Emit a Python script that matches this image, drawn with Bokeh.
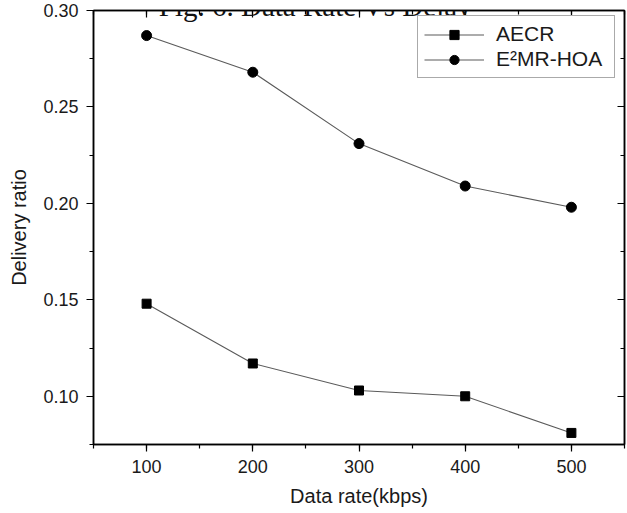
from bokeh.plotting import figure
from bokeh.models import (LinearAxis, SingleIntervalTicker, FixedTicker, PrintfTickFormatter, Label,
                          Legend, LegendItem, CustomJSTickFormatter)
from bokeh.embed import file_html
from bokeh.resources import INLINE

# ---- data ----
data_rate = [100, 200, 300, 400, 500]
aecr = [0.148, 0.117, 0.103, 0.100, 0.081]
e2mr_hoa = [0.287, 0.268, 0.231, 0.209, 0.198]
series_names = ["AECR", "E\u00b2MR-HOA"]
y_ticks = [0.10, 0.15, 0.20, 0.25, 0.30]
y_minor_ticks = [0.075, 0.125, 0.175, 0.225, 0.275]
title_text = "Fig. 6. Data Rate Vs Delay"
x_label = "Data rate(kbps)"
y_label = "Delivery ratio"

FONT = "Liberation Sans"

p = figure(width=627, height=513, x_range=(50, 550), y_range=(0.075, 0.30),
           output_backend="svg", toolbar_location=None,
           x_axis_location=None, y_axis_location=None,
           min_border_left=93, min_border_right=3, min_border_top=10, min_border_bottom=69)
p.xgrid.visible = False
p.ygrid.visible = False
p.outline_line_color = "black"
p.outline_line_width = 1.5
p.background_fill_color = "white"
p.border_fill_color = "white"


def style_axis(ax, inward, show_labels):
    ax.axis_line_color = "black"
    ax.axis_line_width = 1.5
    ax.major_tick_line_color = "black"
    ax.minor_tick_line_color = "black"
    ax.major_tick_line_width = 1.2
    ax.minor_tick_line_width = 1.2
    if inward:
        ax.major_tick_in, ax.major_tick_out = 7, 0
        ax.minor_tick_in, ax.minor_tick_out = 4, 0
    else:
        ax.major_tick_in, ax.major_tick_out = 0, 7
        ax.minor_tick_in, ax.minor_tick_out = 0, 4
    if show_labels:
        ax.major_label_text_font = FONT
        ax.major_label_text_font_size = "18px"
        ax.major_label_text_color = "#1a1a1a"
        ax.major_label_standoff = 8
        ax.axis_label_text_font = FONT
        ax.axis_label_text_font_size = "20px"
        ax.axis_label_text_font_style = "normal"
        ax.axis_label_text_color = "#1a1a1a"
    else:
        ax.formatter = CustomJSTickFormatter(code="return ''")
        ax.major_label_standoff = 0


def xt():
    return SingleIntervalTicker(interval=100, num_minor_ticks=2)


def yt():
    return FixedTicker(ticks=y_ticks, minor_ticks=y_minor_ticks)


bottom = LinearAxis(ticker=xt(), axis_label=x_label)
style_axis(bottom, False, True)
bottom.axis_label_standoff = 9
p.add_layout(bottom, "below")

left = LinearAxis(ticker=yt(), axis_label=y_label, formatter=PrintfTickFormatter(format="%.2f"))
style_axis(left, False, True)
left.axis_label_standoff = 10
p.add_layout(left, "left")

top = LinearAxis(ticker=xt())
style_axis(top, True, False)
p.add_layout(top, "above")

right = LinearAxis(ticker=yt())
style_axis(right, True, False)
p.add_layout(right, "right")

# ---- series ----
l1 = p.line(data_rate, aecr, line_color="#5a5a5a", line_width=1.1)
m1 = p.scatter(data_rate, aecr, marker="square", size=9, fill_color="black", line_color="black")
l2 = p.line(data_rate, e2mr_hoa, line_color="#5a5a5a", line_width=1.1)
m2 = p.scatter(data_rate, e2mr_hoa, marker="circle", size=10, fill_color="black", line_color="black")

legend = Legend(items=[LegendItem(label=series_names[0], renderers=[l1, m1]),
                       LegendItem(label=series_names[1], renderers=[l2, m2])],
                location=(324, 366))
legend.label_text_font = FONT
legend.label_text_font_size = "21px"
legend.label_text_color = "#1a1a1a"
legend.padding = 6
legend.spacing = 1
legend.margin = 0
legend.glyph_height = 23
legend.glyph_width = 60
legend.label_standoff = 12
legend.label_width = 112
legend.label_height = 23
legend.border_line_color = "#555555"
legend.border_line_width = 1
legend.background_fill_color = "white"
legend.background_fill_alpha = 1
p.add_layout(legend, "center")

title = Label(x=259, y=0.30, y_offset=5, text=title_text, text_align="center",
              text_baseline="alphabetic", text_font="Liberation Serif",
              text_font_size="29px", text_color="#111111")
p.add_layout(title)

open("out.html", "w").write(file_html(p, INLINE))
